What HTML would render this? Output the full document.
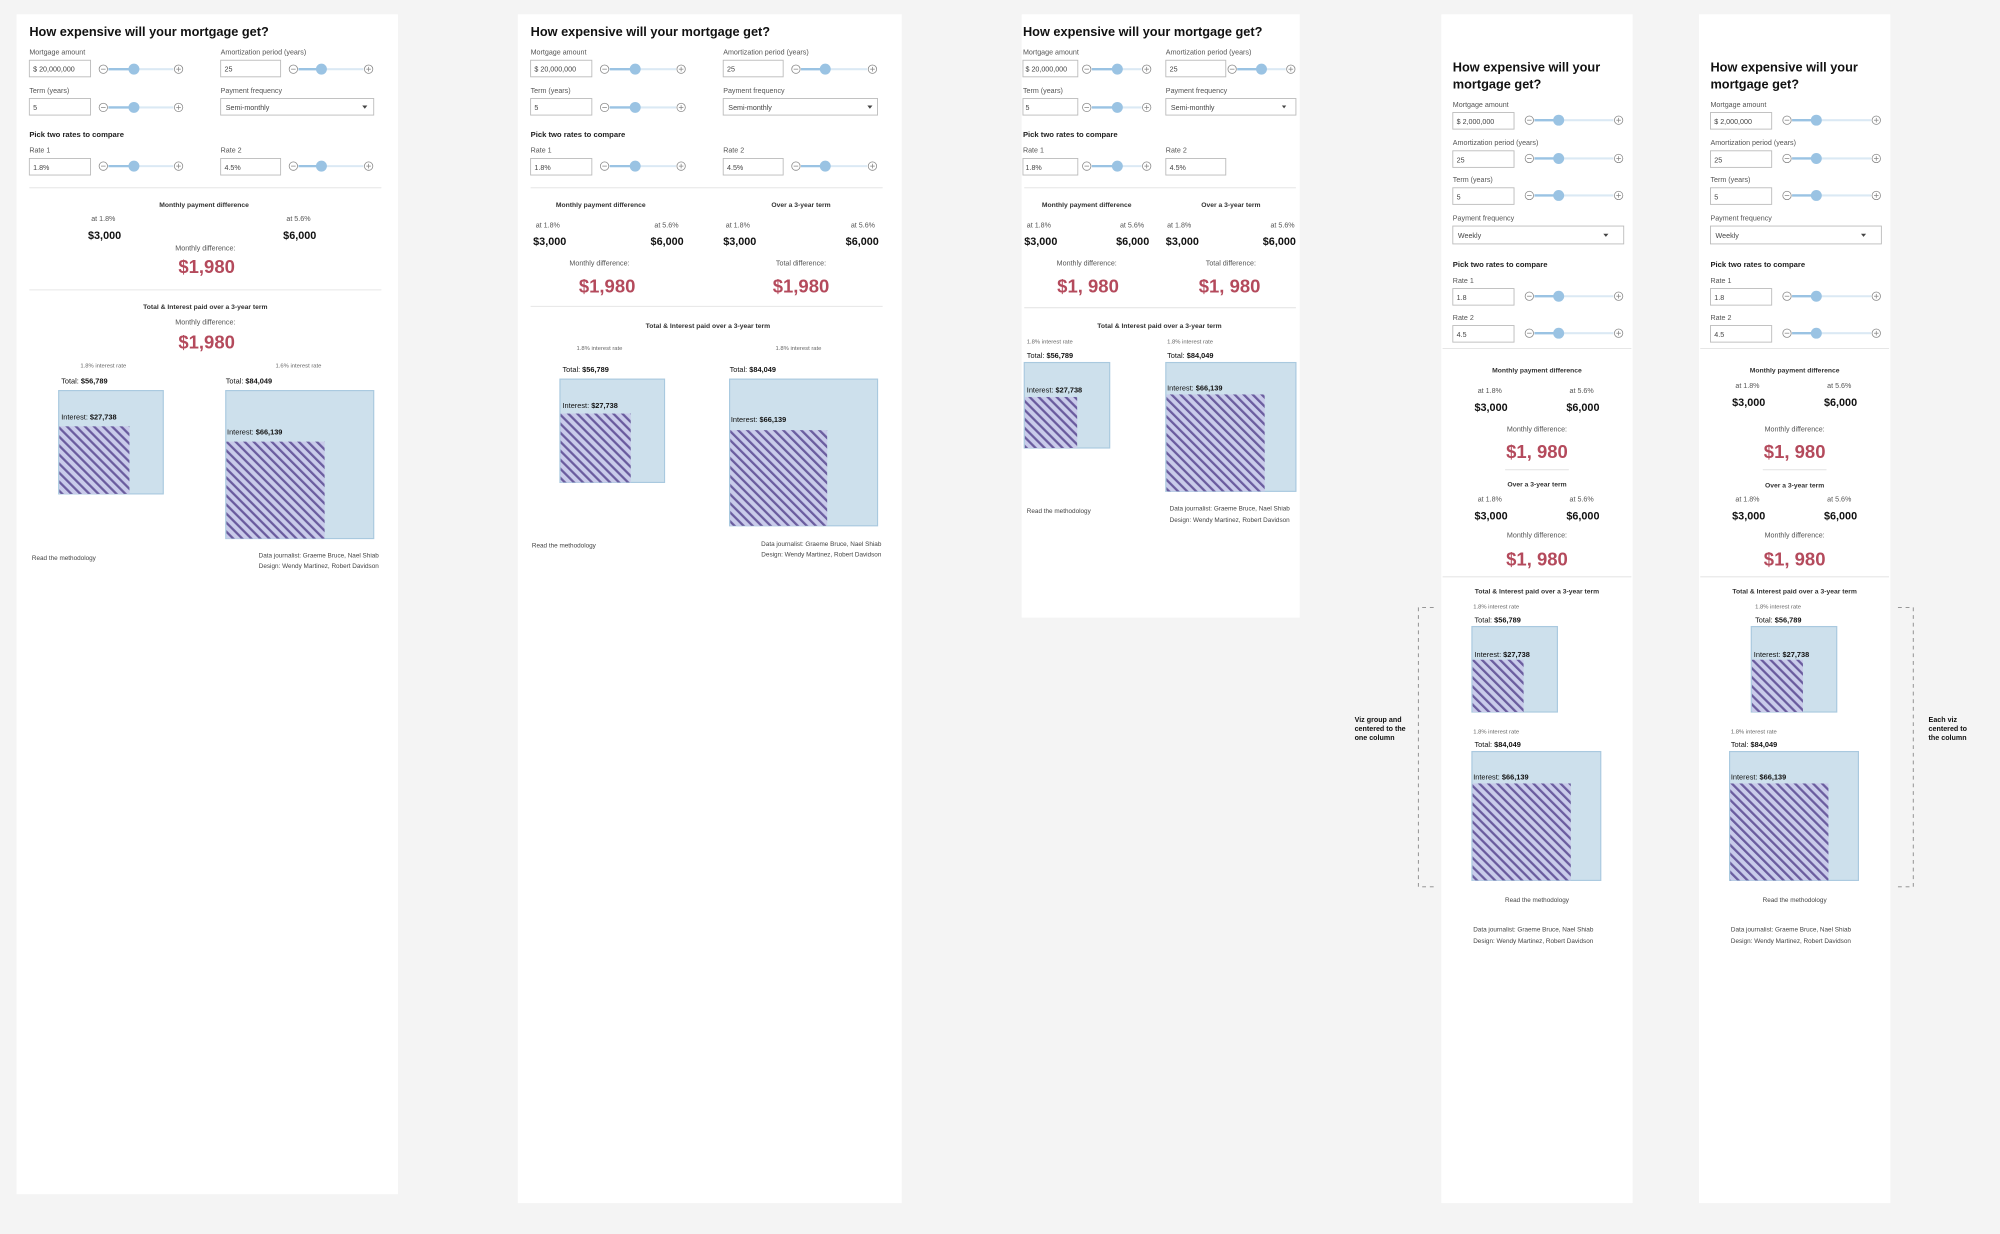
<!DOCTYPE html>
<html><head><meta charset="utf-8"><style>
html,body{margin:0;padding:0;background:#f4f4f4;}
svg{display:block}
</style></head><body>
<svg width="2000" height="1234" viewBox="0 0 1568 967" xmlns="http://www.w3.org/2000/svg">
<defs>
<pattern id="h" patternUnits="userSpaceOnUse" width="5" height="5" patternTransform="rotate(-45)">
<rect width="5" height="5" fill="#c9cbea"/><rect width="1.8" height="5" fill="#6a5c9e"/>
</pattern>
<style>
text{font-family:"Liberation Sans",sans-serif;}
.t{font-size:10px;font-weight:bold;fill:#111}
.l{font-size:5.6px;fill:#555}
.i{font-size:5.6px;fill:#444}
.b{font-size:6px;font-weight:bold;fill:#222}
.s{font-size:5.3px;font-weight:bold;fill:#333}
.v{font-size:8.5px;font-weight:bold;fill:#111}
.r{font-size:14.5px;font-weight:bold;fill:#b44a5c}
.x{font-size:4.6px;fill:#666}
.q{font-size:5.8px;fill:#111}
.cr{font-size:5px;fill:#444}
.in{fill:#fff;stroke:#bbb;stroke-width:.7}
.c{fill:none;stroke:#888;stroke-width:.6}
.tr{stroke:#dbe9f4;stroke-width:1.6}
.tf{stroke:#9ac3e3;stroke-width:1.8}
.kn{fill:#9ac3e3}
.dv{stroke:#e6e6e6;stroke-width:.8}
.bx{fill:#cde0ec;stroke:#a9c9df;stroke-width:.9}
.ht{fill:url(#h)}
.an{font-size:5.6px;font-weight:bold;fill:#111}
.da{stroke:#888;stroke-width:.7;stroke-dasharray:3 3;fill:none}
</style>
<g id="pm"><circle r="3.3" class="c"/><line x1="-1.8" x2="1.8" stroke="#888" stroke-width=".6"/></g>
<g id="pp"><circle r="3.3" class="c"/><line x1="-1.8" x2="1.8" stroke="#888" stroke-width=".6"/><line y1="-1.8" y2="1.8" stroke="#888" stroke-width=".6"/></g>
</defs>

<!-- ============ PANEL 1 ============ -->
<rect x="13" y="11" width="299" height="925" fill="#fff"/>
<text x="23" y="28" class="t">How expensive will your mortgage get?</text>
<text x="23" y="42.5" class="l">Mortgage amount</text>
<text x="173" y="42.5" class="l">Amortization period (years)</text>
<rect x="23" y="47" width="48" height="13" class="in"/><text x="26" y="56" class="i">$ 20,000,000</text>
<rect x="173" y="47" width="47" height="13" class="in"/><text x="176" y="56" class="i">25</text>
<text x="23" y="72.5" class="l">Term (years)</text>
<text x="173" y="72.5" class="l">Payment frequency</text>
<rect x="23" y="77" width="48" height="13" class="in"/><text x="26" y="86" class="i">5</text>
<rect x="173" y="77" width="120" height="13" class="in"/><text x="177" y="86" class="i">Semi-monthly</text><path d="M284 82.5h4l-2 2.5z" fill="#444"/>
<text x="23" y="107" class="b">Pick two rates to compare</text>
<text x="23" y="119.5" class="l">Rate 1</text>
<text x="173" y="119.5" class="l">Rate 2</text>
<rect x="23" y="124" width="48" height="13" class="in"/><text x="26" y="133" class="i">1.8%</text>
<rect x="173" y="124" width="47" height="13" class="in"/><text x="176" y="133" class="i">4.5%</text>
<g transform="translate(81,54)"><use href="#pm"/><line x1="4" x2="55" class="tr"/><line x1="4" x2="24" class="tf"/><circle cx="24" r="4.3" class="kn"/><use href="#pp" x="59"/></g>
<g transform="translate(230,54)"><use href="#pm"/><line x1="4" x2="55" class="tr"/><line x1="4" x2="22" class="tf"/><circle cx="22" r="4.3" class="kn"/><use href="#pp" x="59"/></g>
<g transform="translate(81,84)"><use href="#pm"/><line x1="4" x2="55" class="tr"/><line x1="4" x2="24" class="tf"/><circle cx="24" r="4.3" class="kn"/><use href="#pp" x="59"/></g>
<g transform="translate(81,130)"><use href="#pm"/><line x1="4" x2="55" class="tr"/><line x1="4" x2="24" class="tf"/><circle cx="24" r="4.3" class="kn"/><use href="#pp" x="59"/></g>
<g transform="translate(230,130)"><use href="#pm"/><line x1="4" x2="55" class="tr"/><line x1="4" x2="22" class="tf"/><circle cx="22" r="4.3" class="kn"/><use href="#pp" x="59"/></g>
<line x1="23" x2="299" y1="147" y2="147" class="dv"/>
<text x="160" y="162" class="s" text-anchor="middle">Monthly payment difference</text>
<text x="81" y="173" class="l" text-anchor="middle">at 1.8%</text>
<text x="234" y="173" class="l" text-anchor="middle">at 5.6%</text>
<text x="82" y="187" class="v" text-anchor="middle">$3,000</text>
<text x="235" y="187" class="v" text-anchor="middle">$6,000</text>
<text x="161" y="196" class="l" text-anchor="middle">Monthly difference:</text>
<text x="162" y="214" class="r" text-anchor="middle">$1,980</text>
<line x1="23" x2="299" y1="227" y2="227" class="dv"/>
<text x="161" y="242" class="s" text-anchor="middle">Total &amp; Interest paid over a 3-year term</text>
<text x="161" y="254" class="l" text-anchor="middle">Monthly difference:</text>
<text x="162" y="273" class="r" text-anchor="middle">$1,980</text>
<text x="81" y="288" class="x" text-anchor="middle">1.8% interest rate</text>
<text x="234" y="288" class="x" text-anchor="middle">1.6% interest rate</text>
<text x="48" y="300.5" class="q">Total: <tspan font-weight="bold">$56,789</tspan></text>
<rect x="46" y="306" width="82" height="81" class="bx"/>
<text x="48" y="328.5" class="q">Interest: <tspan font-weight="bold">$27,738</tspan></text>
<rect x="46.5" y="334" width="55" height="53" class="ht"/>
<text x="177" y="300.5" class="q">Total: <tspan font-weight="bold">$84,049</tspan></text>
<rect x="177" y="306" width="116" height="116" class="bx"/>
<text x="178" y="340.5" class="q">Interest: <tspan font-weight="bold">$66,139</tspan></text>
<rect x="177.5" y="346" width="77" height="76" class="ht"/>
<text x="25" y="439" class="cr">Read the methodology</text>
<text x="297" y="437" class="cr" text-anchor="end">Data journalist: Graeme Bruce, Nael Shiab</text>
<text x="297" y="445" class="cr" text-anchor="end">Design: Wendy Martinez, Robert Davidson</text>

<!-- ============ PANEL 2 ============ -->
<rect x="406" y="11" width="301" height="932" fill="#fff"/>
<text x="416" y="28" class="t">How expensive will your mortgage get?</text>
<text x="416" y="42.5" class="l">Mortgage amount</text>
<text x="567" y="42.5" class="l">Amortization period (years)</text>
<rect x="416" y="47" width="48" height="13" class="in"/><text x="419" y="56" class="i">$ 20,000,000</text>
<rect x="567" y="47" width="47" height="13" class="in"/><text x="570" y="56" class="i">25</text>
<text x="416" y="72.5" class="l">Term (years)</text>
<text x="567" y="72.5" class="l">Payment frequency</text>
<rect x="416" y="77" width="48" height="13" class="in"/><text x="419" y="86" class="i">5</text>
<rect x="567" y="77" width="121" height="13" class="in"/><text x="571" y="86" class="i">Semi-monthly</text><path d="M680 82.5h4l-2 2.5z" fill="#444"/>
<text x="416" y="107" class="b">Pick two rates to compare</text>
<text x="416" y="119.5" class="l">Rate 1</text>
<text x="567" y="119.5" class="l">Rate 2</text>
<rect x="416" y="124" width="48" height="13" class="in"/><text x="419" y="133" class="i">1.8%</text>
<rect x="567" y="124" width="47" height="13" class="in"/><text x="570" y="133" class="i">4.5%</text>
<g transform="translate(474,54)"><use href="#pm"/><line x1="4" x2="56" class="tr"/><line x1="4" x2="24" class="tf"/><circle cx="24" r="4.3" class="kn"/><use href="#pp" x="60"/></g>
<g transform="translate(624,54)"><use href="#pm"/><line x1="4" x2="56" class="tr"/><line x1="4" x2="23" class="tf"/><circle cx="23" r="4.3" class="kn"/><use href="#pp" x="60"/></g>
<g transform="translate(474,84)"><use href="#pm"/><line x1="4" x2="56" class="tr"/><line x1="4" x2="24" class="tf"/><circle cx="24" r="4.3" class="kn"/><use href="#pp" x="60"/></g>
<g transform="translate(474,130)"><use href="#pm"/><line x1="4" x2="56" class="tr"/><line x1="4" x2="24" class="tf"/><circle cx="24" r="4.3" class="kn"/><use href="#pp" x="60"/></g>
<g transform="translate(624,130)"><use href="#pm"/><line x1="4" x2="56" class="tr"/><line x1="4" x2="23" class="tf"/><circle cx="23" r="4.3" class="kn"/><use href="#pp" x="60"/></g>
<line x1="416" x2="692" y1="147" y2="147" class="dv"/>
<text x="471" y="162" class="s" text-anchor="middle">Monthly payment difference</text>
<text x="628" y="162" class="s" text-anchor="middle">Over a 3-year term</text>
<text x="420" y="178" class="l">at 1.8%</text>
<text x="532" y="178" class="l" text-anchor="end">at 5.6%</text>
<text x="569" y="178" class="l">at 1.8%</text>
<text x="686" y="178" class="l" text-anchor="end">at 5.6%</text>
<text x="418" y="192" class="v">$3,000</text>
<text x="536" y="192" class="v" text-anchor="end">$6,000</text>
<text x="567" y="192" class="v">$3,000</text>
<text x="689" y="192" class="v" text-anchor="end">$6,000</text>
<text x="470" y="208" class="l" text-anchor="middle">Monthly difference:</text>
<text x="628" y="208" class="l" text-anchor="middle">Total difference:</text>
<text x="476" y="229" class="r" text-anchor="middle">$1,980</text>
<text x="628" y="229" class="r" text-anchor="middle">$1,980</text>
<line x1="416" x2="692" y1="240" y2="240" class="dv"/>
<text x="555" y="257" class="s" text-anchor="middle">Total &amp; Interest paid over a 3-year term</text>
<text x="470" y="274" class="x" text-anchor="middle">1.8% interest rate</text>
<text x="626" y="274" class="x" text-anchor="middle">1.8% interest rate</text>
<text x="441" y="291.5" class="q">Total: <tspan font-weight="bold">$56,789</tspan></text>
<rect x="439" y="297" width="82" height="81" class="bx"/>
<text x="441" y="319.5" class="q">Interest: <tspan font-weight="bold">$27,738</tspan></text>
<rect x="439.5" y="324" width="55" height="54" class="ht"/>
<text x="572" y="291.5" class="q">Total: <tspan font-weight="bold">$84,049</tspan></text>
<rect x="572" y="297" width="116" height="115" class="bx"/>
<text x="573" y="330.5" class="q">Interest: <tspan font-weight="bold">$66,139</tspan></text>
<rect x="572.5" y="337" width="76" height="75" class="ht"/>
<text x="417" y="429" class="cr">Read the methodology</text>
<text x="691" y="428" class="cr" text-anchor="end">Data journalist: Graeme Bruce, Nael Shiab</text>
<text x="691" y="436" class="cr" text-anchor="end">Design: Wendy Martinez, Robert Davidson</text>

<!-- ============ PANEL 3 ============ -->
<rect x="801" y="11" width="218" height="473" fill="#fff"/>
<text x="802" y="28" class="t">How expensive will your mortgage get?</text>
<text x="802" y="42.5" class="l">Mortgage amount</text>
<text x="914" y="42.5" class="l">Amortization period (years)</text>
<rect x="802" y="47" width="43" height="13" class="in"/><text x="804" y="56" class="i" font-size="5.2">$ 20,000,000</text>
<rect x="914" y="47" width="47" height="13" class="in"/><text x="917" y="56" class="i">25</text>
<text x="802" y="72.5" class="l">Term (years)</text>
<text x="914" y="72.5" class="l">Payment frequency</text>
<rect x="802" y="77" width="43" height="13" class="in"/><text x="804" y="86" class="i">5</text>
<rect x="914" y="77" width="102" height="13" class="in"/><text x="918" y="86" class="i">Semi-monthly</text><path d="M1005 82.5h3.4l-1.7 2.2z" fill="#444"/>
<text x="802" y="107" class="b" font-size="5.4">Pick two rates to compare</text>
<text x="802" y="119.5" class="l">Rate 1</text>
<text x="914" y="119.5" class="l">Rate 2</text>
<rect x="802" y="124" width="43" height="13" class="in"/><text x="804" y="133" class="i">1.8%</text>
<rect x="914" y="124" width="47" height="13" class="in"/><text x="917" y="133" class="i">4.5%</text>
<g transform="translate(852,54)"><use href="#pm"/><line x1="4" x2="43" class="tr"/><line x1="4" x2="24" class="tf"/><circle cx="24" r="4.3" class="kn"/><use href="#pp" x="47"/></g>
<g transform="translate(966,54)"><use href="#pm"/><line x1="4" x2="42" class="tr"/><line x1="4" x2="23" class="tf"/><circle cx="23" r="4.3" class="kn"/><use href="#pp" x="46"/></g>
<g transform="translate(852,84)"><use href="#pm"/><line x1="4" x2="43" class="tr"/><line x1="4" x2="24" class="tf"/><circle cx="24" r="4.3" class="kn"/><use href="#pp" x="47"/></g>
<g transform="translate(852,130)"><use href="#pm"/><line x1="4" x2="43" class="tr"/><line x1="4" x2="24" class="tf"/><circle cx="24" r="4.3" class="kn"/><use href="#pp" x="47"/></g>
<line x1="803" x2="1016" y1="147" y2="147" class="dv"/>
<text x="852" y="162" class="s" text-anchor="middle">Monthly payment difference</text>
<text x="965" y="162" class="s" text-anchor="middle">Over a 3-year term</text>
<text x="805" y="178" class="l">at 1.8%</text>
<text x="897" y="178" class="l" text-anchor="end">at 5.6%</text>
<text x="915" y="178" class="l">at 1.8%</text>
<text x="1015" y="178" class="l" text-anchor="end">at 5.6%</text>
<text x="803" y="192" class="v">$3,000</text>
<text x="901" y="192" class="v" text-anchor="end">$6,000</text>
<text x="914" y="192" class="v">$3,000</text>
<text x="1016" y="192" class="v" text-anchor="end">$6,000</text>
<text x="852" y="208" class="l" text-anchor="middle">Monthly difference:</text>
<text x="965" y="208" class="l" text-anchor="middle">Total difference:</text>
<text x="853" y="229" class="r" text-anchor="middle">$1, 980</text>
<text x="964" y="229" class="r" text-anchor="middle">$1, 980</text>
<line x1="803" x2="1016" y1="241" y2="241" class="dv"/>
<text x="909" y="257" class="s" text-anchor="middle">Total &amp; Interest paid over a 3-year term</text>
<text x="805" y="269" class="x">1.8% interest rate</text>
<text x="915" y="269" class="x">1.8% interest rate</text>
<text x="805" y="280.5" class="q">Total: <tspan font-weight="bold">$56,789</tspan></text>
<rect x="803" y="284" width="67" height="67" class="bx"/>
<text x="805" y="307.5" class="q">Interest: <tspan font-weight="bold">$27,738</tspan></text>
<rect x="803.5" y="311" width="41" height="40" class="ht"/>
<text x="915" y="280.5" class="q">Total: <tspan font-weight="bold">$84,049</tspan></text>
<rect x="914" y="284" width="102" height="101" class="bx"/>
<text x="915" y="306" class="q">Interest: <tspan font-weight="bold">$66,139</tspan></text>
<rect x="914.5" y="309" width="77" height="76" class="ht"/>
<text x="805" y="402" class="cr">Read the methodology</text>
<text x="917" y="400" class="cr">Data journalist: Graeme Bruce, Nael Shiab</text>
<text x="917" y="409" class="cr">Design: Wendy Martinez, Robert Davidson</text>

<!-- ============ PANEL 4 ============ -->
<rect x="1130" y="11" width="150" height="932" fill="#fff"/>
<text x="1139" y="56" class="t">How expensive will your</text>
<text x="1139" y="69" class="t">mortgage get?</text>
<text x="1139" y="83.5" class="l">Mortgage amount</text>
<rect x="1139" y="88" width="48" height="13" class="in"/><text x="1142" y="97" class="i">$ 2,000,000</text>
<text x="1139" y="113.5" class="l">Amortization period (years)</text>
<rect x="1139" y="118" width="48" height="13" class="in"/><text x="1142" y="127" class="i">25</text>
<text x="1139" y="142.5" class="l">Term (years)</text>
<rect x="1139" y="147" width="48" height="13" class="in"/><text x="1142" y="156" class="i">5</text>
<text x="1139" y="172.5" class="l">Payment frequency</text>
<rect x="1139" y="177" width="134" height="14" class="in"/><text x="1143" y="186.5" class="i">Weekly</text><path d="M1257 183h4l-2 2.5z" fill="#444"/>
<text x="1139" y="209" class="b">Pick two rates to compare</text>
<text x="1139" y="221.5" class="l">Rate 1</text>
<rect x="1139" y="226" width="48" height="13" class="in"/><text x="1142" y="235" class="i">1.8</text>
<text x="1139" y="250.5" class="l">Rate 2</text>
<rect x="1139" y="255" width="48" height="13" class="in"/><text x="1142" y="264" class="i">4.5</text>
<g transform="translate(1199,94)"><use href="#pm"/><line x1="4" x2="66" class="tr"/><line x1="4" x2="23" class="tf"/><circle cx="23" r="4.3" class="kn"/><use href="#pp" x="70"/></g>
<g transform="translate(1199,124)"><use href="#pm"/><line x1="4" x2="66" class="tr"/><line x1="4" x2="23" class="tf"/><circle cx="23" r="4.3" class="kn"/><use href="#pp" x="70"/></g>
<g transform="translate(1199,153)"><use href="#pm"/><line x1="4" x2="66" class="tr"/><line x1="4" x2="23" class="tf"/><circle cx="23" r="4.3" class="kn"/><use href="#pp" x="70"/></g>
<g transform="translate(1199,232)"><use href="#pm"/><line x1="4" x2="66" class="tr"/><line x1="4" x2="23" class="tf"/><circle cx="23" r="4.3" class="kn"/><use href="#pp" x="70"/></g>
<g transform="translate(1199,261)"><use href="#pm"/><line x1="4" x2="66" class="tr"/><line x1="4" x2="23" class="tf"/><circle cx="23" r="4.3" class="kn"/><use href="#pp" x="70"/></g>
<line x1="1131" x2="1279" y1="273" y2="273" class="dv"/>
<text x="1205" y="292" class="s" text-anchor="middle">Monthly payment difference</text>
<text x="1168" y="308" class="l" text-anchor="middle">at 1.8%</text>
<text x="1240" y="308" class="l" text-anchor="middle">at 5.6%</text>
<text x="1169" y="322" class="v" text-anchor="middle">$3,000</text>
<text x="1241" y="322" class="v" text-anchor="middle">$6,000</text>
<text x="1205" y="338" class="l" text-anchor="middle">Monthly difference:</text>
<text x="1205" y="359" class="r" text-anchor="middle">$1, 980</text>
<line x1="1180" x2="1230" y1="368" y2="368" class="dv"/>
<text x="1205" y="381" class="s" text-anchor="middle">Over a 3-year term</text>
<text x="1168" y="393" class="l" text-anchor="middle">at 1.8%</text>
<text x="1240" y="393" class="l" text-anchor="middle">at 5.6%</text>
<text x="1169" y="407" class="v" text-anchor="middle">$3,000</text>
<text x="1241" y="407" class="v" text-anchor="middle">$6,000</text>
<text x="1205" y="421" class="l" text-anchor="middle">Monthly difference:</text>
<text x="1205" y="443" class="r" text-anchor="middle">$1, 980</text>
<line x1="1131" x2="1279" y1="452" y2="452" class="dv"/>
<text x="1205" y="465" class="s" text-anchor="middle">Total &amp; Interest paid over a 3-year term</text>
<text x="1155" y="477" class="x">1.8% interest rate</text>
<text x="1156" y="488" class="q">Total: <tspan font-weight="bold">$56,789</tspan></text>
<rect x="1154" y="491" width="67" height="67" class="bx"/>
<text x="1156" y="515" class="q">Interest: <tspan font-weight="bold">$27,738</tspan></text>
<rect x="1154.5" y="517" width="40" height="41" class="ht"/>
<text x="1155" y="575" class="x">1.8% interest rate</text>
<text x="1156" y="585.5" class="q">Total: <tspan font-weight="bold">$84,049</tspan></text>
<rect x="1154" y="589" width="101" height="101" class="bx"/>
<text x="1155" y="611" class="q">Interest: <tspan font-weight="bold">$66,139</tspan></text>
<rect x="1154.5" y="614" width="77" height="76" class="ht"/>
<text x="1205" y="707" class="cr" text-anchor="middle">Read the methodology</text>
<text x="1155" y="730" class="cr">Data journalist: Graeme Bruce, Nael Shiab</text>
<text x="1155" y="739" class="cr">Design: Wendy Martinez, Robert Davidson</text>
<path d="M1124 476H1112V695H1124" class="da"/>
<text x="1062" y="566" class="an">Viz group and</text>
<text x="1062" y="573" class="an">centered to the</text>
<text x="1062" y="580" class="an">one column</text>

<!-- ============ PANEL 5 ============ -->
<rect x="1332" y="11" width="150" height="932" fill="#fff"/>
<text x="1341" y="56" class="t">How expensive will your</text>
<text x="1341" y="69" class="t">mortgage get?</text>
<text x="1341" y="83.5" class="l">Mortgage amount</text>
<rect x="1341" y="88" width="48" height="13" class="in"/><text x="1344" y="97" class="i">$ 2,000,000</text>
<text x="1341" y="113.5" class="l">Amortization period (years)</text>
<rect x="1341" y="118" width="48" height="13" class="in"/><text x="1344" y="127" class="i">25</text>
<text x="1341" y="142.5" class="l">Term (years)</text>
<rect x="1341" y="147" width="48" height="13" class="in"/><text x="1344" y="156" class="i">5</text>
<text x="1341" y="172.5" class="l">Payment frequency</text>
<rect x="1341" y="177" width="134" height="14" class="in"/><text x="1345" y="186.5" class="i">Weekly</text><path d="M1459 183h4l-2 2.5z" fill="#444"/>
<text x="1341" y="209" class="b">Pick two rates to compare</text>
<text x="1341" y="221.5" class="l">Rate 1</text>
<rect x="1341" y="226" width="48" height="13" class="in"/><text x="1344" y="235" class="i">1.8</text>
<text x="1341" y="250.5" class="l">Rate 2</text>
<rect x="1341" y="255" width="48" height="13" class="in"/><text x="1344" y="264" class="i">4.5</text>
<g transform="translate(1401,94)"><use href="#pm"/><line x1="4" x2="66" class="tr"/><line x1="4" x2="23" class="tf"/><circle cx="23" r="4.3" class="kn"/><use href="#pp" x="70"/></g>
<g transform="translate(1401,124)"><use href="#pm"/><line x1="4" x2="66" class="tr"/><line x1="4" x2="23" class="tf"/><circle cx="23" r="4.3" class="kn"/><use href="#pp" x="70"/></g>
<g transform="translate(1401,153)"><use href="#pm"/><line x1="4" x2="66" class="tr"/><line x1="4" x2="23" class="tf"/><circle cx="23" r="4.3" class="kn"/><use href="#pp" x="70"/></g>
<g transform="translate(1401,232)"><use href="#pm"/><line x1="4" x2="66" class="tr"/><line x1="4" x2="23" class="tf"/><circle cx="23" r="4.3" class="kn"/><use href="#pp" x="70"/></g>
<g transform="translate(1401,261)"><use href="#pm"/><line x1="4" x2="66" class="tr"/><line x1="4" x2="23" class="tf"/><circle cx="23" r="4.3" class="kn"/><use href="#pp" x="70"/></g>
<line x1="1333" x2="1481" y1="273" y2="273" class="dv"/>
<text x="1407" y="292" class="s" text-anchor="middle">Monthly payment difference</text>
<text x="1370" y="304" class="l" text-anchor="middle">at 1.8%</text>
<text x="1442" y="304" class="l" text-anchor="middle">at 5.6%</text>
<text x="1371" y="318" class="v" text-anchor="middle">$3,000</text>
<text x="1443" y="318" class="v" text-anchor="middle">$6,000</text>
<text x="1407" y="338" class="l" text-anchor="middle">Monthly difference:</text>
<text x="1407" y="359" class="r" text-anchor="middle">$1, 980</text>
<line x1="1382" x2="1432" y1="368" y2="368" class="dv"/>
<text x="1407" y="382" class="s" text-anchor="middle">Over a 3-year term</text>
<text x="1370" y="393" class="l" text-anchor="middle">at 1.8%</text>
<text x="1442" y="393" class="l" text-anchor="middle">at 5.6%</text>
<text x="1371" y="407" class="v" text-anchor="middle">$3,000</text>
<text x="1443" y="407" class="v" text-anchor="middle">$6,000</text>
<text x="1407" y="421" class="l" text-anchor="middle">Monthly difference:</text>
<text x="1407" y="443" class="r" text-anchor="middle">$1, 980</text>
<line x1="1333" x2="1481" y1="452" y2="452" class="dv"/>
<text x="1407" y="465" class="s" text-anchor="middle">Total &amp; Interest paid over a 3-year term</text>
<text x="1394" y="477" class="x" text-anchor="middle">1.8% interest rate</text>
<text x="1376" y="488" class="q">Total: <tspan font-weight="bold">$56,789</tspan></text>
<rect x="1373" y="491" width="67" height="67" class="bx"/>
<text x="1375" y="515" class="q">Interest: <tspan font-weight="bold">$27,738</tspan></text>
<rect x="1373.5" y="517" width="40" height="41" class="ht"/>
<text x="1357" y="575" class="x">1.8% interest rate</text>
<text x="1357" y="585.5" class="q">Total: <tspan font-weight="bold">$84,049</tspan></text>
<rect x="1356" y="589" width="101" height="101" class="bx"/>
<text x="1357" y="611" class="q">Interest: <tspan font-weight="bold">$66,139</tspan></text>
<rect x="1356.5" y="614" width="77" height="76" class="ht"/>
<text x="1407" y="707" class="cr" text-anchor="middle">Read the methodology</text>
<text x="1357" y="730" class="cr">Data journalist: Graeme Bruce, Nael Shiab</text>
<text x="1357" y="739" class="cr">Design: Wendy Martinez, Robert Davidson</text>
<path d="M1488 476H1500V695H1488" class="da"/>
<text x="1512" y="566" class="an">Each viz</text>
<text x="1512" y="573" class="an">centered to</text>
<text x="1512" y="580" class="an">the column</text>
</svg>
</body></html>
